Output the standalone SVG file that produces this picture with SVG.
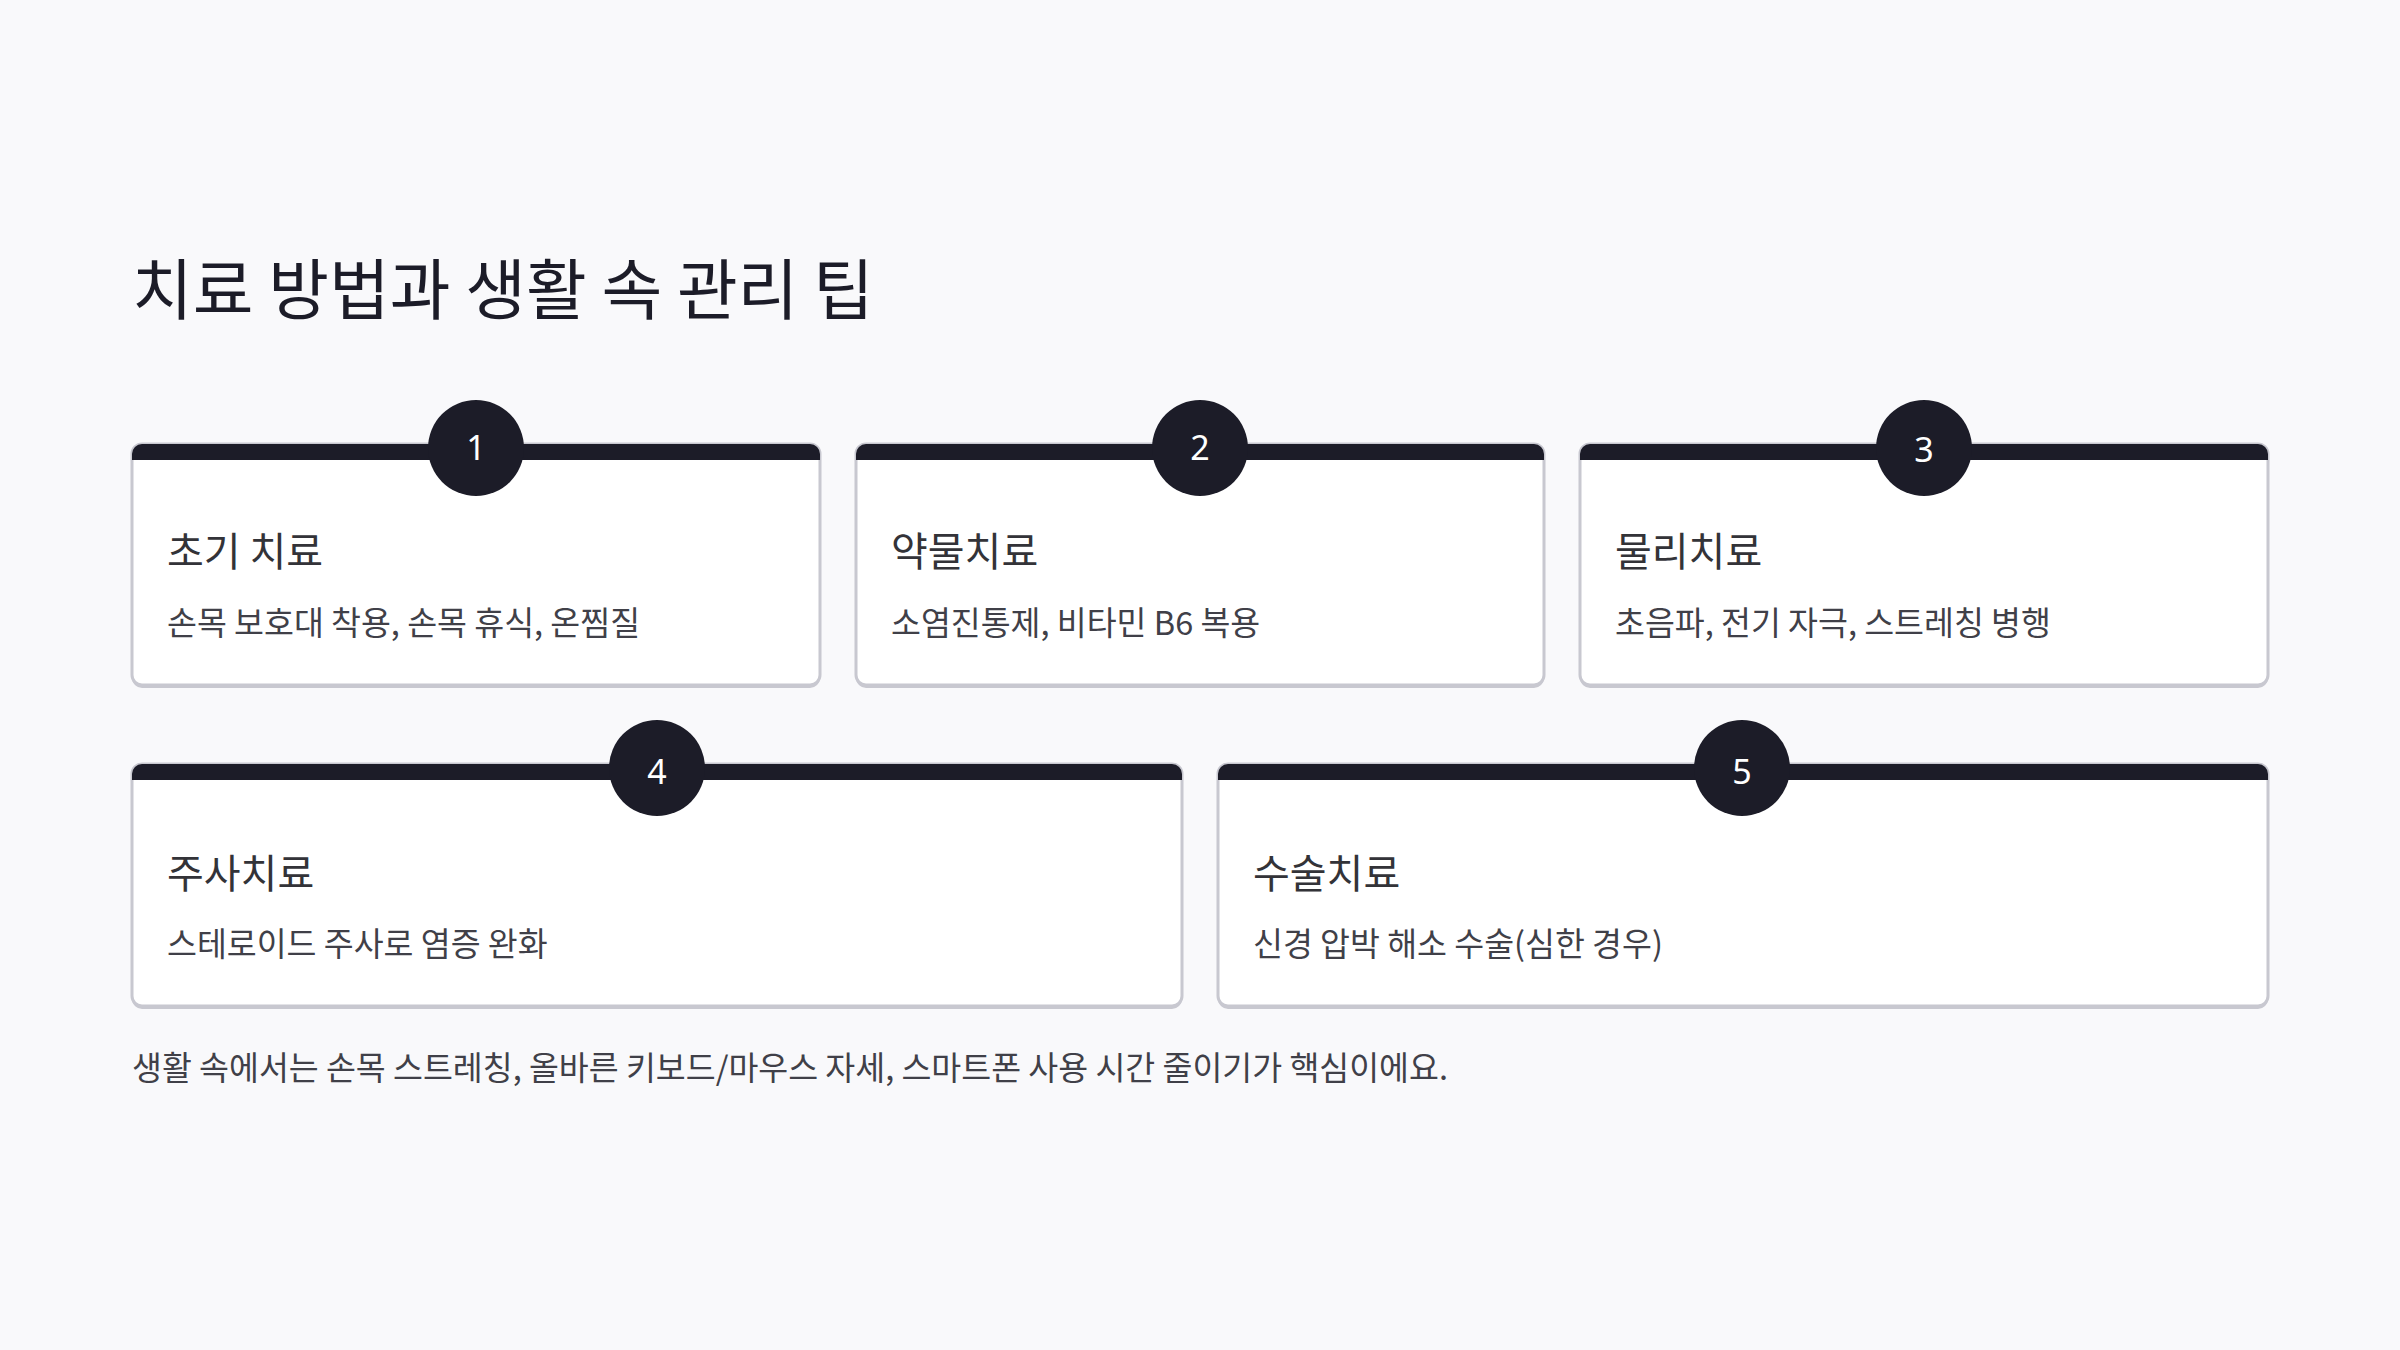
<svg xmlns="http://www.w3.org/2000/svg" width="2400" height="1350" viewBox="0 0 2400 1350">
<defs>
<style>
.bg{fill:#f9f9fb}
.shadow{fill:#c8c8d0}
.card{fill:#ffffff;stroke:#c8c8d0;stroke-width:3}
.bar{fill:#1c1c28}
.badge{fill:#1c1c28}
.num{font-family:"Noto Sans","Noto Sans CJK KR",sans-serif;font-size:34px;fill:#ffffff;text-anchor:middle}
.title{font-family:"Noto Sans CJK KR","Noto Sans",sans-serif;font-size:66px;fill:#1c1c28}
.ctitle{font-family:"Noto Sans CJK KR","Noto Sans",sans-serif;font-size:40px;fill:#333338}
.desc{font-family:"Noto Sans CJK KR","Noto Sans",sans-serif;font-size:32.5px;fill:#404048}
.foot{font-family:"Noto Sans CJK KR","Noto Sans",sans-serif;font-size:32.5px;fill:#404048}
</style>
</defs>
<rect class="bg" x="0" y="0" width="2400" height="1350"/>
<text class="title" x="132" y="314">치료 방법과 생활 속 관리 팁</text>
<g id="connectors"></g>
<g id="card1">
<rect class="shadow" x="132" y="447" width="688" height="241" rx="10"/>
<rect class="card" x="132" y="444" width="688" height="241" rx="10"/>
<path class="bar" d="M132,460 V454 A10,10 0 0 1 142,444 H810 A10,10 0 0 1 820,454 V460 Z"/>
<circle class="badge" cx="476" cy="448" r="48"/>
<text class="num" x="476" y="460">1</text>
<text class="ctitle" x="167" y="566">초기 치료</text>
<text class="desc" x="167" y="635">손목 보호대 착용, 손목 휴식, 온찜질</text>
</g>
<g id="card2">
<rect class="shadow" x="856" y="447" width="688" height="241" rx="10"/>
<rect class="card" x="856" y="444" width="688" height="241" rx="10"/>
<path class="bar" d="M856,460 V454 A10,10 0 0 1 866,444 H1534 A10,10 0 0 1 1544,454 V460 Z"/>
<circle class="badge" cx="1200" cy="448" r="48"/>
<text class="num" x="1200" y="460">2</text>
<text class="ctitle" x="891" y="566">약물치료</text>
<text class="desc" x="891" y="635">소염진통제, 비타민 B6 복용</text>
</g>
<g id="card3">
<rect class="shadow" x="1580" y="447" width="688" height="241" rx="10"/>
<rect class="card" x="1580" y="444" width="688" height="241" rx="10"/>
<path class="bar" d="M1580,460 V454 A10,10 0 0 1 1590,444 H2258 A10,10 0 0 1 2268,454 V460 Z"/>
<circle class="badge" cx="1924" cy="448" r="48"/>
<text class="num" x="1924" y="462">3</text>
<text class="ctitle" x="1615" y="566">물리치료</text>
<text class="desc" x="1615" y="635">초음파, 전기 자극, 스트레칭 병행</text>
</g>
<g id="card4">
<rect class="shadow" x="132" y="767" width="1050" height="242" rx="10"/>
<rect class="card" x="132" y="764" width="1050" height="242" rx="10"/>
<path class="bar" d="M132,780 V774 A10,10 0 0 1 142,764 H1172 A10,10 0 0 1 1182,774 V780 Z"/>
<circle class="badge" cx="657" cy="768" r="48"/>
<text class="num" x="657" y="784">4</text>
<text class="ctitle" x="167" y="888">주사치료</text>
<text class="desc" x="167" y="956">스테로이드 주사로 염증 완화</text>
</g>
<g id="card5">
<rect class="shadow" x="1218" y="767" width="1050" height="242" rx="10"/>
<rect class="card" x="1218" y="764" width="1050" height="242" rx="10"/>
<path class="bar" d="M1218,780 V774 A10,10 0 0 1 1228,764 H2258 A10,10 0 0 1 2268,774 V780 Z"/>
<circle class="badge" cx="1742" cy="768" r="48"/>
<text class="num" x="1742" y="784">5</text>
<text class="ctitle" x="1253" y="888">수술치료</text>
<text class="desc" x="1253" y="956">신경 압박 해소 수술(심한 경우)</text>
</g>
<text class="foot" x="132" y="1080">생활 속에서는 손목 스트레칭, 올바른 키보드/마우스 자세, 스마트폰 사용 시간 줄이기가 핵심이에요.</text>
</svg>
